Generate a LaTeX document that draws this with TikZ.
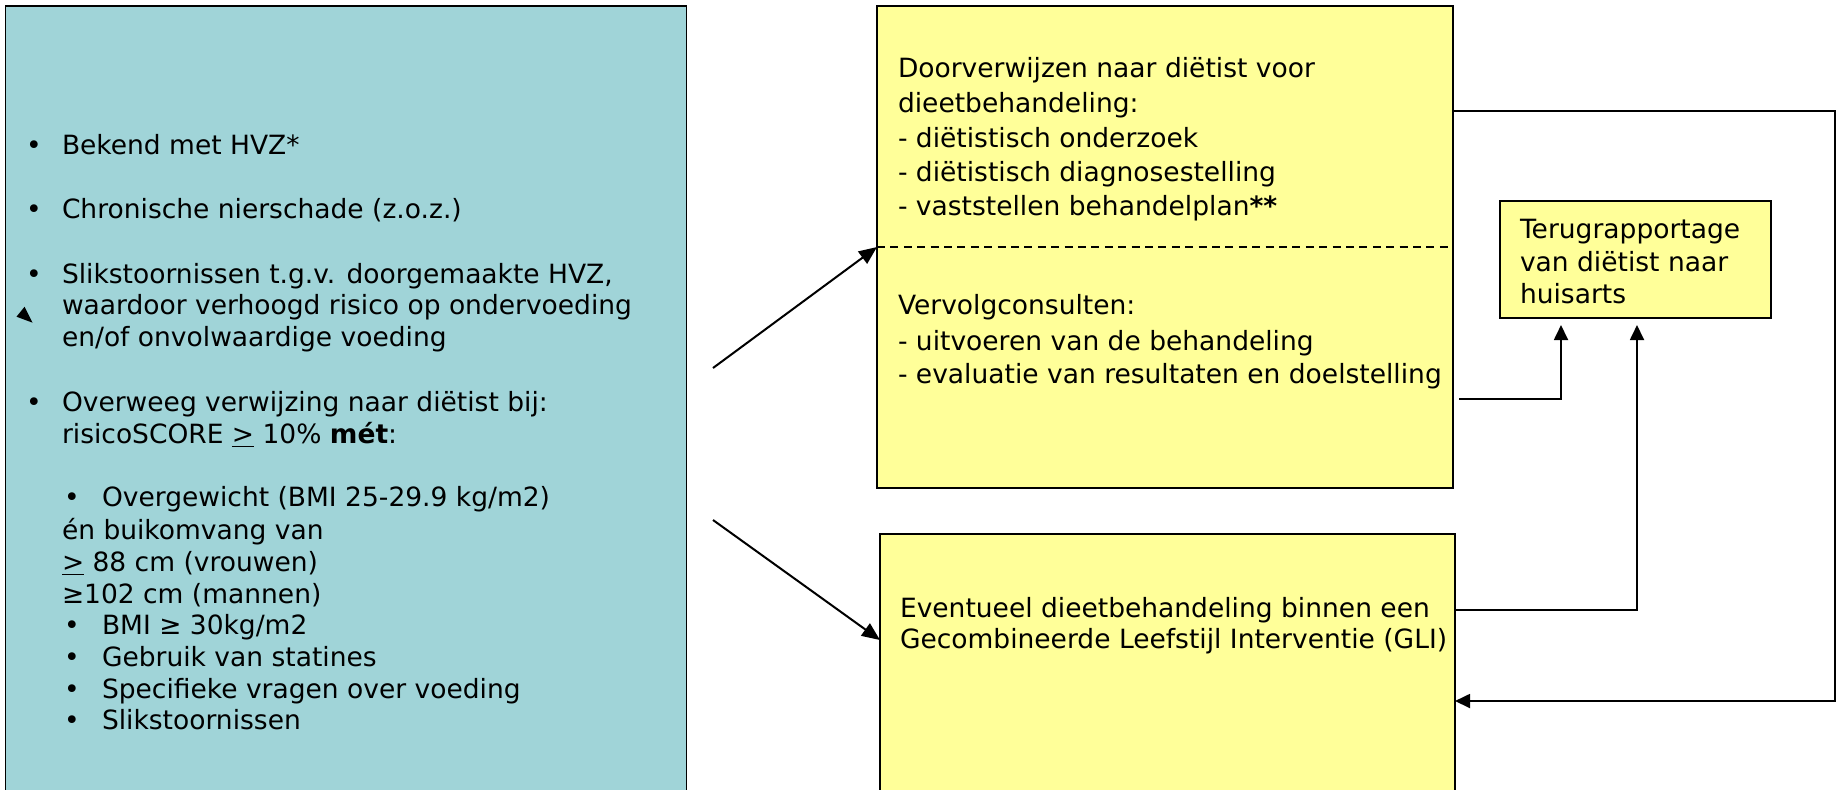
\documentclass[tikz,border=0pt]{standalone}
\usepackage{fontspec}
\setmainfont{DejaVu Sans}
\usetikzlibrary{arrows.meta}
\definecolor{tealbox}{RGB}{160,212,216}
\definecolor{yellowbox}{RGB}{255,255,153}
\newcommand\dfs{\fontsize{13.25}{16}\selectfont}
\begin{document}
\begin{tikzpicture}[x=0.5pt,y=-0.5pt,
  every node/.style={inner sep=0pt, outer sep=0pt},
  boxa/.style={draw=black, line width=0.75pt, fill=tealbox, anchor=north west},
  boxy/.style={draw=black, line width=0.75pt, fill=yellowbox, anchor=north west},
  txt/.style={anchor=mid west, font=\dfs, yshift=-2.5pt},
  ltxt/.style={txt, yshift=-0.5pt},
  arr/.style={line width=1pt, -{Triangle[length=9pt,width=7.5pt]}},
  conn/.style={line width=0.9pt, -{Triangle[length=7.5pt,width=7pt]}}
]
\useasboundingbox (0,0) rectangle (1837,789);
% boxes
\node[boxa, minimum width=340.5pt, minimum height=397pt] (left) at (5.5,6) {};
\node[boxy, minimum width=288pt, minimum height=241pt] (b1) at (877,6) {};
\node[boxy, minimum width=287.5pt, minimum height=133pt] (b2) at (880,534) {};
\node[boxy, minimum width=135.5pt, minimum height=58.5pt] (tr) at (1500,201) {};
% stray arrowhead
\fill (24.6,306.7) -- (16.5,316.7) -- (32.6,322.7) -- cycle;
% left texts
\node[ltxt] (bl1) at (26,143) {•};
\node[ltxt] (tl1) at (62,143) {Bekend met HVZ*};
\node[ltxt] (bl2) at (26,207) {•};
\node[ltxt] (tl2) at (62,207) {Chronische nierschade (z.o.z.)};
\node[ltxt] (bl3) at (26,272) {•};
\node[ltxt] (tl3) at (62,272) {Slikstoornissen t.g.v. doorgemaakte HVZ,};
\node[ltxt] (tl4) at (62,303) {waardoor verhoogd risico op ondervoeding};
\node[ltxt] (tl5) at (62,335) {en/of onvolwaardige voeding};
\node[ltxt] (bl6) at (26,400) {•};
\node[ltxt] (tl6) at (62,400) {Overweeg verwijzing naar diëtist bij:};
\node[ltxt] (tl7) at (62,432) {risicoSCORE \underline{>} 10\% \textbf{mét}:};
\node[ltxt] (bl8) at (64,495) {•};
\node[ltxt] (tl8) at (102,495) {Overgewicht (BMI 25-29.9 kg/m2)};
\node[ltxt] (tl9) at (62,528) {én buikomvang van};
\node[ltxt] (tl10) at (62,560) {\underline{>} 88 cm (vrouwen)};
\node[ltxt] (tl11) at (62,592) {≥102 cm (mannen)};
\node[ltxt] (bl12) at (64,623) {•};
\node[ltxt] (tl12) at (102,623) {BMI ≥ 30kg/m2};
\node[ltxt] (bl13) at (64,655) {•};
\node[ltxt] (tl13) at (102,655) {Gebruik van statines};
\node[ltxt] (bl14) at (64,687) {•};
\node[ltxt] (tl14) at (102,687) {Specifieke vragen over voeding};
\node[ltxt] (bl15) at (64,718) {•};
\node[ltxt] (tl15) at (102,718) {Slikstoornissen};
% box 1 texts
\node[txt] (a1) at (898,67) {Doorverwijzen naar diëtist voor};
\node[txt] (a2) at (898,102) {dieetbehandeling:};
\node[txt] (a3) at (898,137) {- diëtistisch onderzoek};
\node[txt] (a4) at (898,171) {- diëtistisch diagnosestelling};
\node[txt] (a5) at (898,205) {- vaststellen behandelplan\textbf{**}};
\node[txt] (a6) at (898,304) {Vervolgconsulten:};
\node[txt] (a7) at (898,340) {- uitvoeren van de behandeling};
\node[txt] (a8) at (898,373) {- evaluatie van resultaten en doelstelling};
% box 2 texts
\node[txt] (g1) at (900,607) {Eventueel dieetbehandeling binnen een};
\node[txt] (g2) at (900,638) {Gecombineerde Leefstijl Interventie (GLI)};
% terug texts
\node[txt] (r1) at (1520,228) {Terugrapportage};
\node[txt] (r2) at (1520,261) {van diëtist naar};
\node[txt] (r3) at (1520,293) {huisarts};
% dashed separator
\coordinate (dl) at (0,247);
\draw[line width=0.75pt, dash pattern=on 4pt off 2.7pt] (b1.west |- dl) -- (b1.east |- dl);
% arrows from left
\coordinate (s1) at (713,368);
\draw[arr] (s1) -- (b1.west |- dl);
\coordinate (s2) at (713,520);
\coordinate (e2) at (0,640);
\draw[arr] (s2) -- (b2.west |- e2);
% feedback loop
\coordinate (q1) at (1835,111);
\coordinate (q2) at (1835,701);
\draw[conn] (b1.east |- q1) -- (q1) -- (q2) -- (b2.east |- q2);
% to terugrapportage
\coordinate (trb) at ([yshift=-3.5pt]tr.south);
\coordinate (b1e) at ([xshift=3pt]b1.east);
\coordinate (k2) at (1561,399);
\draw[conn] (b1e |- k2) -- (k2) -- (k2 |- trb);
\coordinate (k3) at (1637,610);
\draw[conn] (b2.east |- k3) -- (k3) -- (k3 |- trb);
\end{tikzpicture}
\end{document}
